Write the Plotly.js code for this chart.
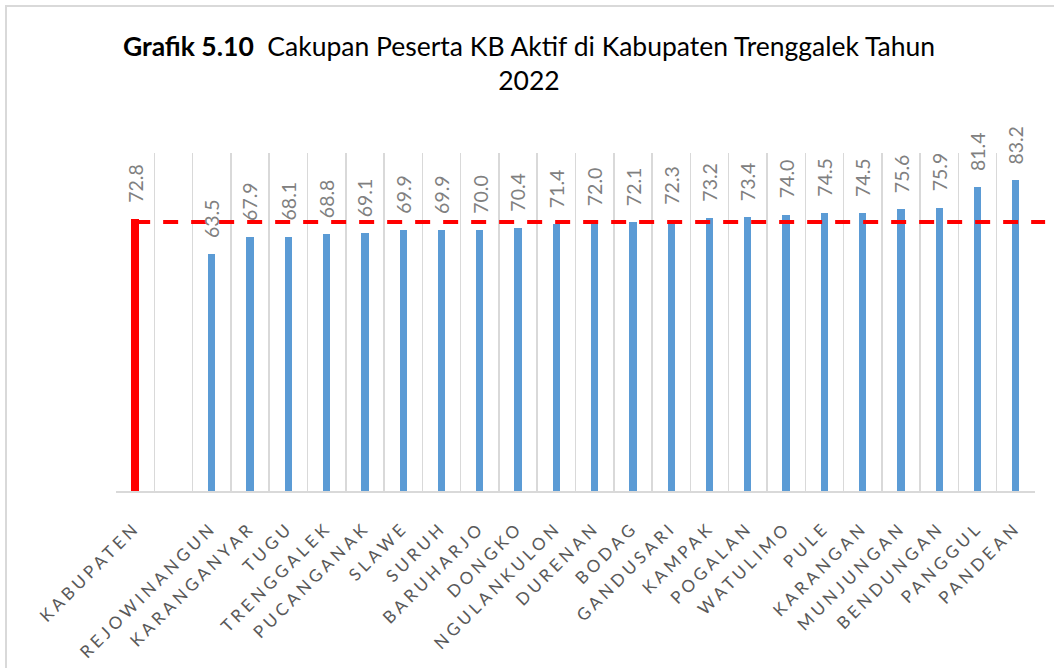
<!DOCTYPE html>
<html>
<head>
<meta charset="utf-8">
<script src="https://cdn.plot.ly/plotly-3.0.1.min.js"></script>
<style>
  html, body { margin: 0; padding: 0; background: #fff; }
  #chart { width: 1054px; height: 668px; position: absolute; left: 0; top: 0; }
  #frame { position: absolute; left: 5px; top: 5px; width: 1049px; height: 663px;
           border-top: 2px solid #d9d9d9; border-left: 2px solid #d9d9d9; pointer-events: none; box-sizing: border-box; }
  .xaxislayer-above .xtick text { letter-spacing: 3.8px; }
</style>
</head>
<body>
<div id="chart"></div>
<div id="frame"></div>
<script>
// Category labels (a blank slot separates the regency total from the districts)
const kabupatenLabel = "KABUPATEN";
const kabupatenValue = 72.8;
const blankSlot = " ";
const districts = ["REJOWINANGUN", "KARANGANYAR", "TUGU", "TRENGGALEK", "PUCANGANAK", "SLAWE",
  "SURUH", "BARUHARJO", "DONGKO", "NGULANKULON", "DURENAN", "BODAG", "GANDUSARI", "KAMPAK",
  "POGALAN", "WATULIMO", "PULE", "KARANGAN", "MUNJUNGAN", "BENDUNGAN", "PANGGUL", "PANDEAN"];
const districtValues = [63.5, 67.9, 68.1, 68.8, 69.1, 69.9, 69.9, 70.0, 70.4, 71.4, 72.0, 72.1,
  72.3, 73.2, 73.4, 74.0, 74.5, 74.5, 75.6, 75.9, 81.4, 83.2];

const allCats = [kabupatenLabel, blankSlot].concat(districts);
const nCats = allCats.length;

const traces = [
  {
    type: "bar", x: [kabupatenLabel], y: [kabupatenValue],
    marker: { color: "#ff0000" }, width: 0.21, hoverinfo: "x+y"
  },
  {
    type: "bar", x: districts, y: districtValues,
    marker: { color: "#5b9bd5" }, width: 0.19, hoverinfo: "x+y"
  }
];

const labelFont = { family: "Lato, 'Open Sans', sans-serif", size: 19.5, color: "#808080" };
const annotations = [kabupatenLabel].concat(districts).map((c, i) => {
  const v = i === 0 ? kabupatenValue : districtValues[i - 1];
  return {
    x: c, y: v, xref: "x", yref: "y", text: v.toFixed(1), textangle: -90,
    showarrow: false, xanchor: "center", yanchor: "bottom", yshift: 14,
    font: labelFont
  };
});

const layout = {
  width: 1054, height: 668,
  margin: { l: 116, r: 19, t: 153, b: 177 },
  paper_bgcolor: "rgba(0,0,0,0)", plot_bgcolor: "#fff",
  showlegend: false, bargap: 0,
  title: {
    text: "<b>Grafik 5.10</b>\u00A0\u00A0Cakupan Peserta KB Aktif di Kabupaten Trenggalek Tahun<br>2022",
    font: { family: "Lato, 'Open Sans', sans-serif", size: 26.5, color: "#000" },
    x: 529 / 1054, xref: "container", xanchor: "center",
    y: 1 - 56 / 668, yref: "container", yanchor: "top"
  },
  xaxis: {
    type: "category", categoryorder: "array", categoryarray: allCats,
    range: [-0.5, nCats - 0.5],
    tickson: "boundaries", ticks: "", showgrid: true, gridcolor: "#d9d9d9", gridwidth: 1.5,
    showline: true, linecolor: "#d9d9d9", linewidth: 2,
    tickangle: -45, ticklabelstandoff: 18,
    tickfont: { family: "Lato, 'Open Sans', sans-serif", size: 17, color: "#595959" },
    fixedrange: true
  },
  yaxis: {
    range: [0, 90.5], visible: false, showgrid: false, zeroline: false, fixedrange: true
  },
  annotations: annotations,
  shapes: [{
    type: "line", xref: "paper", yref: "y",
    x0: 0.5 / nCats, x1: 1.011,
    ysizemode: "pixel", yanchor: kabupatenValue, y0: -3, y1: -3,
    line: { color: "#ff0000", width: 4, dash: "15px,13px" }, layer: "above"
  }]
};

Plotly.newPlot("chart", traces, layout, { displayModeBar: false, staticPlot: true });
</script>
</body>
</html>
